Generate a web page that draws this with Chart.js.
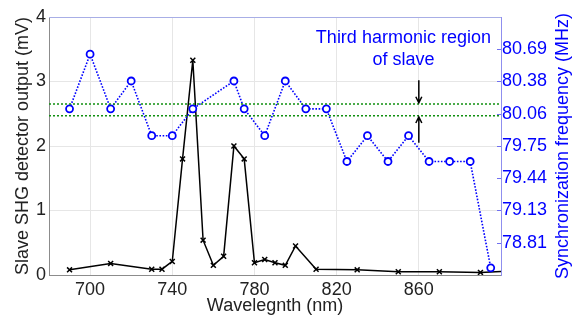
<!DOCTYPE html>
<html>
<head>
<meta charset="utf-8">
<script src="https://cdn.jsdelivr.net/npm/chart.js@4.4.0/dist/chart.umd.min.js"></script>
<style>
  html, body { margin: 0; padding: 0; background: #fff; }
</style>
</head>
<body>
<canvas id="chart" width="575" height="320"></canvas>
<script>
// slave SHG detector output, left axis (mV)
const shgWavelengths = [690, 710, 730, 735, 740, 745, 750, 755, 760, 765, 770, 775, 780, 785, 790, 795, 800, 810, 830, 850, 870, 890, 905];
const shgOutput = [0.08, 0.18, 0.09, 0.09, 0.21, 1.8, 3.33, 0.54, 0.15, 0.29, 2.0, 1.8, 0.19, 0.24, 0.19, 0.15, 0.45, 0.09, 0.08, 0.05, 0.05, 0.04, 0.06];

// synchronization frequency, right axis (MHz)
const syncWavelengths = [690, 700, 710, 720, 730, 740, 750, 770, 775, 785, 795, 805, 815, 825, 835, 845, 855, 865, 875, 885, 895];
const syncFreq = [80.11, 80.64, 80.11, 80.38, 79.85, 79.85, 80.11, 80.38, 80.11, 79.85, 80.38, 80.11, 80.11, 79.60, 79.85, 79.60, 79.85, 79.60, 79.60, 79.60, 78.57];

// third harmonic band edges (mV scale)
const bandLevels = [2.65, 2.47];

const xTicks = [700, 740, 780, 820, 860];
const leftTicks = [0, 1, 2, 3, 4];
const rightTickLabels = ['78.81', '79.13', '79.44', '79.75', '80.06', '80.38', '80.69'];

const noteLines = ['Third harmonic region', 'of slave'];
const noteAt = { x: 852.5, y: 3.67 };
const arrows = [
  { x: 860, from: 3.02, to: 2.67 },
  { x: 860, from: 2.05, to: 2.45 }
];

const FONT = 'Liberation Sans, Arial, sans-serif';
Chart.defaults.font.family = FONT;
Chart.defaults.font.size = 18;

const toPts = (xs, ys) => xs.map((x, i) => ({ x: x, y: ys[i] }));

const bandSets = bandLevels.map(v => ({
  data: [{ x: 680, y: v }, { x: 900, y: v }],
  yAxisID: 'y',
  borderColor: '#109010',
  borderWidth: 1.5,
  borderDash: [2, 2],
  pointRadius: 0
}));

const decor = {
  id: 'decor',
  afterDraw(chart) {
    const { ctx, chartArea: a, scales } = chart;
    const x = scales.x, y = scales.y, y2 = scales.y2;
    ctx.save();

    // top frame
    ctx.strokeStyle = '#a8aee6';
    ctx.lineWidth = 1;
    ctx.beginPath();
    ctx.moveTo(a.left, a.top + 0.5);
    ctx.lineTo(a.right, a.top + 0.5);
    ctx.stroke();

    // inner ticks on right axis
    ctx.strokeStyle = '#6f6ff0';
    y2.ticks.forEach(t => {
      const py = Math.round(y2.getPixelForValue(t.value)) + 0.5;
      ctx.beginPath();
      ctx.moveTo(a.right - 4, py);
      ctx.lineTo(a.right, py);
      ctx.stroke();
    });

    // arrows
    ctx.strokeStyle = '#000';
    ctx.lineWidth = 1.5;
    arrows.forEach(ar => {
      const px = x.getPixelForValue(ar.x);
      const p0 = y.getPixelForValue(ar.from);
      const p1 = y.getPixelForValue(ar.to);
      const dir = p1 > p0 ? 1 : -1;
      ctx.beginPath();
      ctx.moveTo(px, p0);
      ctx.lineTo(px, p1);
      ctx.moveTo(px - 3, p1 - dir * 6);
      ctx.lineTo(px, p1);
      ctx.lineTo(px + 3, p1 - dir * 6);
      ctx.stroke();
    });

    // annotation text
    ctx.fillStyle = '#0000ff';
    ctx.font = '18px ' + FONT;
    ctx.textAlign = 'center';
    ctx.textBaseline = 'middle';
    const nx = x.getPixelForValue(noteAt.x);
    const ny = y.getPixelForValue(noteAt.y);
    noteLines.forEach((s, i) => ctx.fillText(s, nx, ny + i * 22));

    // right axis title, reading bottom to top
    ctx.translate(563, (a.top + a.bottom) / 2);
    ctx.rotate(-Math.PI / 2);
    ctx.fillText('Synchronization frequency (MHz)', 0, 0);

    ctx.restore();
  }
};

new Chart(document.getElementById('chart'), {
  type: 'line',
  data: {
    datasets: [
      ...bandSets,
      {
        data: toPts(syncWavelengths, syncFreq),
        yAxisID: 'y2',
        borderColor: '#0000ff',
        borderWidth: 1.6,
        borderDash: [1.6, 1.6],
        pointStyle: 'circle',
        pointRadius: 3.5,
        pointBorderWidth: 1.8,
        pointBorderColor: '#0000ff',
        pointBackgroundColor: '#fff'
      },
      {
        data: toPts(shgWavelengths, shgOutput),
        yAxisID: 'y',
        borderColor: '#000',
        borderWidth: 1.5,
        pointStyle: 'crossRot',
        pointRadius: 3.5,
        pointBorderWidth: 1.5,
        pointBorderColor: '#000',
        clip: 0
      }
    ]
  },
  options: {
    responsive: false,
    animation: false,
    devicePixelRatio: 1,
    layout: { padding: { top: 17, left: 0, right: 0, bottom: 0 } },
    plugins: { legend: { display: false }, tooltip: { enabled: false } },
    scales: {
      x: {
        type: 'linear',
        min: 680,
        max: 900,
        afterBuildTicks: s => { s.ticks = xTicks.map(v => ({ value: v })); },
        afterFit: s => { s.height = 45; },
        grid: { color: '#e6e6e6', drawTicks: false },
        border: { color: '#8c8c8c' },
        ticks: { color: '#222', padding: 4 },
        title: { display: true, text: 'Wavelegnth (nm)', color: '#222', padding: { top: 0, bottom: 3 } }
      },
      y: {
        position: 'left',
        min: 0,
        max: 4,
        afterBuildTicks: s => { s.ticks = leftTicks.map(v => ({ value: v })); },
        afterFit: s => { s.width = 49; },
        grid: { color: '#e6e6e6', drawTicks: false },
        border: { color: '#8c8c8c' },
        ticks: { color: '#222', padding: 3 },
        title: { display: true, text: 'Slave SHG detector output (mV)', color: '#222', padding: { top: 12, bottom: 0 } }
      },
      y2: {
        position: 'right',
        min: 78.5,
        max: 81,
        afterBuildTicks: s => { s.ticks = rightTickLabels.map(t => ({ value: parseFloat(t) })); },
        afterFit: s => { s.width = 74; },
        grid: { drawOnChartArea: false, drawTicks: false },
        border: { color: '#8f8fef' },
        ticks: { color: '#0000ff', padding: 1, callback: v => v.toFixed(2) }
      }
    }
  },
  plugins: [decor]
});
</script>
</body>
</html>
